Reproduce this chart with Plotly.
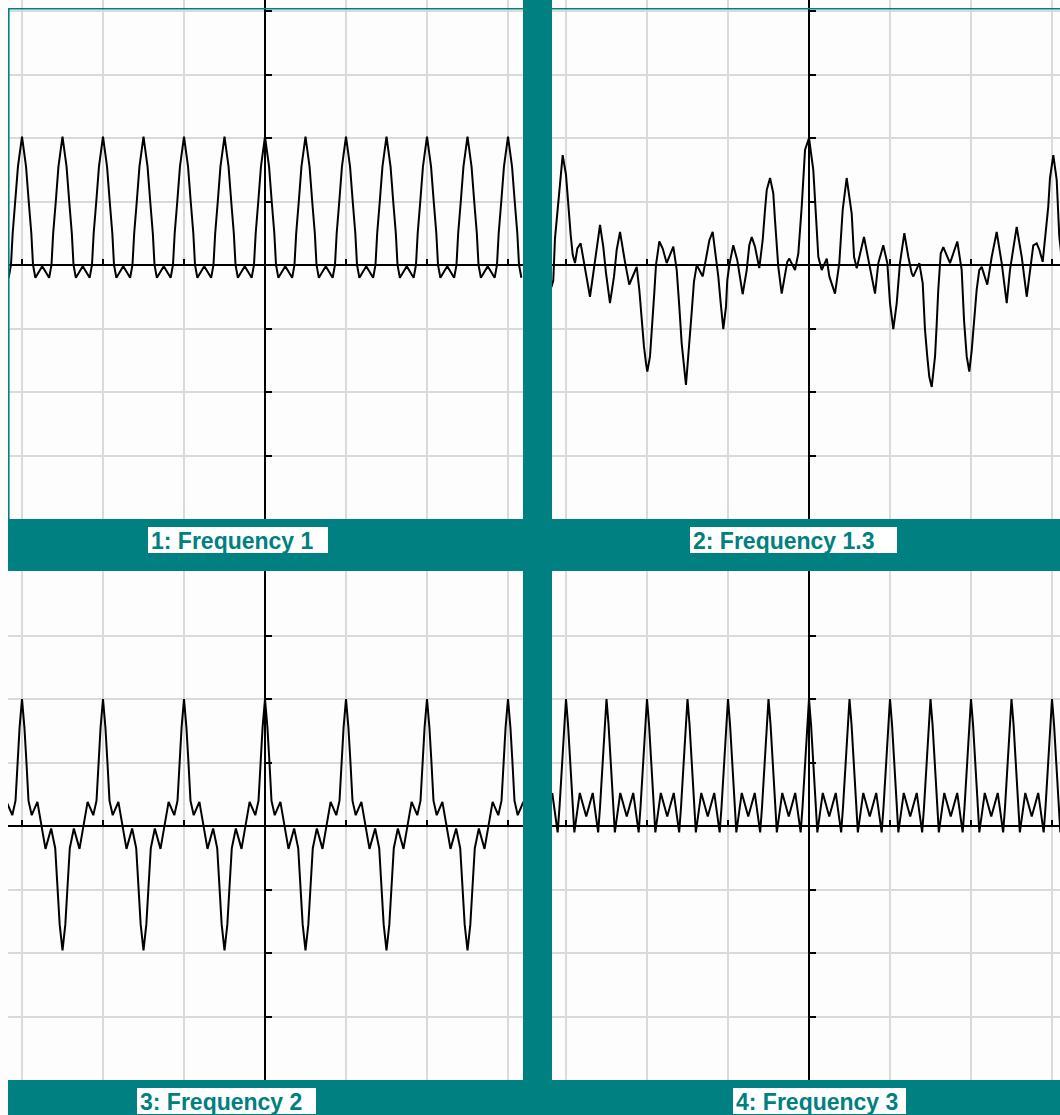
import plotly.graph_objects as go

# ---------------------------------------------------------------------------
# Waveform vertices (x in grid units, y in grid units), one list pair per panel
# ---------------------------------------------------------------------------

# Panel 1: "Frequency 1"
P1_X = [
    -3.165, -3.136, -3.115, -3.083, -3.05,
    -3.0, -2.95, -2.917, -2.885, -2.864, -2.835, -2.75, -2.665, -2.636, -2.615, -2.583, -2.55,
    -2.5, -2.45, -2.417, -2.385, -2.364, -2.335, -2.25, -2.165, -2.136, -2.115, -2.083, -2.05,
    -2.0, -1.95, -1.917, -1.885, -1.864, -1.835, -1.75, -1.665, -1.636, -1.615, -1.583, -1.55,
    -1.5, -1.45, -1.417, -1.385, -1.364, -1.335, -1.25, -1.165, -1.136, -1.115, -1.083, -1.05,
    -1.0, -0.95, -0.917, -0.885, -0.864, -0.835, -0.75, -0.665, -0.636, -0.615, -0.583, -0.55,
    -0.5, -0.45, -0.417, -0.385, -0.364, -0.335, -0.25, -0.165, -0.136, -0.115, -0.083, -0.05,
    0.0, 0.05, 0.083, 0.115, 0.136, 0.165, 0.25, 0.335, 0.364, 0.385, 0.417, 0.45,
    0.5, 0.55, 0.583, 0.615, 0.636, 0.665, 0.75, 0.835, 0.864, 0.885, 0.917, 0.95,
    1.0, 1.05, 1.083, 1.115, 1.136, 1.165, 1.25, 1.335, 1.364, 1.385, 1.417, 1.45,
    1.5, 1.55, 1.583, 1.615, 1.636, 1.665, 1.75, 1.835, 1.864, 1.885, 1.917, 1.95,
    2.0, 2.05, 2.083, 2.115, 2.136, 2.165, 2.25, 2.335, 2.364, 2.385, 2.417, 2.45,
    2.5, 2.55, 2.583, 2.615, 2.636, 2.665, 2.75, 2.835, 2.864, 2.885, 2.917, 2.95,
    3.0, 3.05, 3.083, 3.115, 3.136, 3.165,
]
P1_Y = [
    -0.2, 0.0, 0.5, 1.0, 1.55,
    2.02, 1.55, 1.0, 0.5, 0.0, -0.2, -0.02, -0.2, 0.0, 0.5, 1.0, 1.55,
    2.02, 1.55, 1.0, 0.5, 0.0, -0.2, -0.02, -0.2, 0.0, 0.5, 1.0, 1.55,
    2.02, 1.55, 1.0, 0.5, 0.0, -0.2, -0.02, -0.2, 0.0, 0.5, 1.0, 1.55,
    2.02, 1.55, 1.0, 0.5, 0.0, -0.2, -0.02, -0.2, 0.0, 0.5, 1.0, 1.55,
    2.02, 1.55, 1.0, 0.5, 0.0, -0.2, -0.02, -0.2, 0.0, 0.5, 1.0, 1.55,
    2.02, 1.55, 1.0, 0.5, 0.0, -0.2, -0.02, -0.2, 0.0, 0.5, 1.0, 1.55,
    2.02, 1.55, 1.0, 0.5, 0.0, -0.2, -0.02, -0.2, 0.0, 0.5, 1.0, 1.55,
    2.02, 1.55, 1.0, 0.5, 0.0, -0.2, -0.02, -0.2, 0.0, 0.5, 1.0, 1.55,
    2.02, 1.55, 1.0, 0.5, 0.0, -0.2, -0.02, -0.2, 0.0, 0.5, 1.0, 1.55,
    2.02, 1.55, 1.0, 0.5, 0.0, -0.2, -0.02, -0.2, 0.0, 0.5, 1.0, 1.55,
    2.02, 1.55, 1.0, 0.5, 0.0, -0.2, -0.02, -0.2, 0.0, 0.5, 1.0, 1.55,
    2.02, 1.55, 1.0, 0.5, 0.0, -0.2, -0.02, -0.2, 0.0, 0.5, 1.0, 1.55,
    2.02, 1.55, 1.0, 0.5, 0.0, -0.2,
]

# Panel 2: "Frequency 1.3"
P2_X = [
    -3.18, -3.157, -3.136, -3.095, -3.065, -3.041, -3.0, -2.972, -2.942, -2.917,
    -2.889, -2.86, -2.819, -2.786, -2.753, -2.704, -2.663, -2.63, -2.58, -2.54,
    -2.506, -2.457, -2.407, -2.374, -2.333, -2.272, -2.243, -2.219, -2.16, -2.127,
    -2.095, -2.065, -2.037, -2.012, -1.996, -1.963, -1.935, -1.91, -1.889, -1.848,
    -1.806, -1.757, -1.675, -1.633, -1.601, -1.572, -1.519, -1.478, -1.448, -1.42,
    -1.386, -1.312, -1.263, -1.23, -1.189, -1.148, -1.12, -1.09, -1.058, -1.025,
    -1.009, -0.984, -0.935, -0.886, -0.86, -0.819, -0.769, -0.737, -0.707, -0.667,
    -0.614, -0.572, -0.543, -0.522, -0.481, -0.441, -0.42, -0.399, -0.379, -0.337,
    -0.296, -0.268, -0.243, -0.173, -0.132, -0.09, -0.049, 0.0, 0.053, 0.086,
    0.115, 0.157, 0.219, 0.251, 0.321, 0.374, 0.416, 0.465, 0.527, 0.556,
    0.589, 0.679, 0.732, 0.815, 0.856, 0.917, 0.967, 1.0, 1.041, 1.083,
    1.123, 1.177, 1.226, 1.268, 1.288, 1.362, 1.404, 1.432, 1.46, 1.485,
    1.515, 1.556, 1.577, 1.596, 1.626, 1.658, 1.741, 1.831, 1.885, 1.914,
    1.947, 1.979, 2.009, 2.037, 2.07, 2.102, 2.132, 2.201, 2.256, 2.317,
    2.379, 2.441, 2.481, 2.564, 2.626, 2.688, 2.728, 2.769, 2.811, 2.844,
    2.885, 2.926, 2.954, 2.975, 3.016, 3.058, 3.09, 3.12,
]
P2_Y = [
    -0.35, -0.24, 0.42, 1.0, 1.42, 1.73, 1.42, 0.94, 0.47, 0.16,
    0.03, 0.26, 0.34, 0.1, -0.16, -0.5, -0.13, 0.19, 0.63, 0.29,
    -0.13, -0.6, -0.18, 0.24, 0.52, 0.05, -0.18, -0.31, -0.13, -0.03,
    -0.39, -0.87, -1.29, -1.55, -1.68, -1.44, -0.97, -0.44, 0.0, 0.37,
    0.26, 0.03, 0.29, -0.08, -0.66, -1.23, -1.89, -1.29, -0.74, -0.26,
    0.0, -0.18, 0.13, 0.39, 0.52, 0.13, -0.18, -0.6, -1.01, -0.66,
    -0.24, 0.0, 0.31, 0.08, -0.13, -0.46, -0.08, 0.31, 0.44, 0.29,
    -0.05, 0.39, 0.87, 1.18, 1.37, 1.13, 0.71, 0.24, -0.03, -0.45,
    -0.13, 0.05, 0.1, -0.08, 0.18, 0.92, 1.81, 2.0, 1.5, 0.71,
    0.13, -0.08, 0.1, -0.18, -0.45, 0.03, 0.87, 1.37, 0.81, 0.13,
    -0.05, 0.44, 0.08, -0.45, 0.03, 0.31, 0.03, -0.6, -1.01, -0.6,
    0.03, 0.5, 0.13, -0.13, -0.18, 0.03, -0.29, -1.02, -1.44, -1.76,
    -1.92, -1.44, -0.92, -0.39, 0.18, 0.28, 0.03, 0.37, -0.08, -0.87,
    -1.44, -1.68, -1.34, -0.87, -0.39, -0.08, -0.03, -0.31, 0.13, 0.52,
    0.03, -0.6, -0.08, 0.6, 0.13, -0.5, -0.08, 0.31, 0.34, 0.24,
    0.05, 0.55, 0.92, 1.37, 1.73, 1.34, 0.45, 0.1,
]

# Panel 3: "Frequency 2"
P3_X = [
    -3.19, -3.12, -3.08, -3.055, -3.03,
    -3.0, -2.97, -2.945, -2.92, -2.88, -2.81, -2.71, -2.64, -2.59, -2.56, -2.535,
    -2.5, -2.465, -2.44, -2.41, -2.36, -2.29, -2.19, -2.12, -2.08, -2.055, -2.03,
    -2.0, -1.97, -1.945, -1.92, -1.88, -1.81, -1.71, -1.64, -1.59, -1.56, -1.535,
    -1.5, -1.465, -1.44, -1.41, -1.36, -1.29, -1.19, -1.12, -1.08, -1.055, -1.03,
    -1.0, -0.97, -0.945, -0.92, -0.88, -0.81, -0.71, -0.64, -0.59, -0.56, -0.535,
    -0.5, -0.465, -0.44, -0.41, -0.36, -0.29, -0.19, -0.12, -0.08, -0.055, -0.03,
    0.0, 0.03, 0.055, 0.08, 0.12, 0.19, 0.29, 0.36, 0.41, 0.44, 0.465,
    0.5, 0.535, 0.56, 0.59, 0.64, 0.71, 0.81, 0.88, 0.92, 0.945, 0.97,
    1.0, 1.03, 1.055, 1.08, 1.12, 1.19, 1.29, 1.36, 1.41, 1.44, 1.465,
    1.5, 1.535, 1.56, 1.59, 1.64, 1.71, 1.81, 1.88, 1.92, 1.945, 1.97,
    2.0, 2.03, 2.055, 2.08, 2.12, 2.19, 2.29, 2.36, 2.41, 2.44, 2.465,
    2.5, 2.535, 2.56, 2.59, 2.64, 2.71, 2.81, 2.88, 2.92, 2.945, 2.97,
    3.0, 3.03, 3.055, 3.08, 3.12, 3.19,
]
P3_Y = [
    0.38, 0.17, 0.4, 1.0, 1.55,
    2.0, 1.55, 1.0, 0.4, 0.17, 0.38, -0.36, -0.04, -0.35, -1.0, -1.55,
    -1.96, -1.55, -1.0, -0.35, -0.04, -0.36, 0.38, 0.17, 0.4, 1.0, 1.55,
    2.0, 1.55, 1.0, 0.4, 0.17, 0.38, -0.36, -0.04, -0.35, -1.0, -1.55,
    -1.96, -1.55, -1.0, -0.35, -0.04, -0.36, 0.38, 0.17, 0.4, 1.0, 1.55,
    2.0, 1.55, 1.0, 0.4, 0.17, 0.38, -0.36, -0.04, -0.35, -1.0, -1.55,
    -1.96, -1.55, -1.0, -0.35, -0.04, -0.36, 0.38, 0.17, 0.4, 1.0, 1.55,
    2.0, 1.55, 1.0, 0.4, 0.17, 0.38, -0.36, -0.04, -0.35, -1.0, -1.55,
    -1.96, -1.55, -1.0, -0.35, -0.04, -0.36, 0.38, 0.17, 0.4, 1.0, 1.55,
    2.0, 1.55, 1.0, 0.4, 0.17, 0.38, -0.36, -0.04, -0.35, -1.0, -1.55,
    -1.96, -1.55, -1.0, -0.35, -0.04, -0.36, 0.38, 0.17, 0.4, 1.0, 1.55,
    2.0, 1.55, 1.0, 0.4, 0.17, 0.38, -0.36, -0.04, -0.35, -1.0, -1.55,
    -1.96, -1.55, -1.0, -0.35, -0.04, -0.36, 0.38, 0.17, 0.4, 1.0, 1.55,
    2.0, 1.55, 1.0, 0.4, 0.17, 0.38,
]

# Panel 4: "Frequency 3"
P4_X = [
    -3.17, -3.103, -3.08, -3.06, -3.025,
    -3.0, -2.975, -2.94, -2.92, -2.897, -2.83, -2.75, -2.67, -2.603, -2.58, -2.56, -2.525,
    -2.5, -2.475, -2.44, -2.42, -2.397, -2.33, -2.25, -2.17, -2.103, -2.08, -2.06, -2.025,
    -2.0, -1.975, -1.94, -1.92, -1.897, -1.83, -1.75, -1.67, -1.603, -1.58, -1.56, -1.525,
    -1.5, -1.475, -1.44, -1.42, -1.397, -1.33, -1.25, -1.17, -1.103, -1.08, -1.06, -1.025,
    -1.0, -0.975, -0.94, -0.92, -0.897, -0.83, -0.75, -0.67, -0.603, -0.58, -0.56, -0.525,
    -0.5, -0.475, -0.44, -0.42, -0.397, -0.33, -0.25, -0.17, -0.103, -0.08, -0.06, -0.025,
    0.0, 0.025, 0.06, 0.08, 0.103, 0.17, 0.25, 0.33, 0.397, 0.42, 0.44, 0.475,
    0.5, 0.525, 0.56, 0.58, 0.603, 0.67, 0.75, 0.83, 0.897, 0.92, 0.94, 0.975,
    1.0, 1.025, 1.06, 1.08, 1.103, 1.17, 1.25, 1.33, 1.397, 1.42, 1.44, 1.475,
    1.5, 1.525, 1.56, 1.58, 1.603, 1.67, 1.75, 1.83, 1.897, 1.92, 1.94, 1.975,
    2.0, 2.025, 2.06, 2.08, 2.103, 2.17, 2.25, 2.33, 2.397, 2.42, 2.44, 2.475,
    2.5, 2.525, 2.56, 2.58, 2.603, 2.67, 2.75, 2.83, 2.897, 2.92, 2.94, 2.975,
    3.0, 3.025, 3.06, 3.08, 3.103, 3.17,
]
P4_Y = [
    0.52, -0.1, 0.3, 0.75, 1.6,
    2.0, 1.6, 0.75, 0.3, -0.1, 0.52, 0.15, 0.52, -0.1, 0.3, 0.75, 1.6,
    2.0, 1.6, 0.75, 0.3, -0.1, 0.52, 0.15, 0.52, -0.1, 0.3, 0.75, 1.6,
    2.0, 1.6, 0.75, 0.3, -0.1, 0.52, 0.15, 0.52, -0.1, 0.3, 0.75, 1.6,
    2.0, 1.6, 0.75, 0.3, -0.1, 0.52, 0.15, 0.52, -0.1, 0.3, 0.75, 1.6,
    2.0, 1.6, 0.75, 0.3, -0.1, 0.52, 0.15, 0.52, -0.1, 0.3, 0.75, 1.6,
    2.0, 1.6, 0.75, 0.3, -0.1, 0.52, 0.15, 0.52, -0.1, 0.3, 0.75, 1.6,
    2.0, 1.6, 0.75, 0.3, -0.1, 0.52, 0.15, 0.52, -0.1, 0.3, 0.75, 1.6,
    2.0, 1.6, 0.75, 0.3, -0.1, 0.52, 0.15, 0.52, -0.1, 0.3, 0.75, 1.6,
    2.0, 1.6, 0.75, 0.3, -0.1, 0.52, 0.15, 0.52, -0.1, 0.3, 0.75, 1.6,
    2.0, 1.6, 0.75, 0.3, -0.1, 0.52, 0.15, 0.52, -0.1, 0.3, 0.75, 1.6,
    2.0, 1.6, 0.75, 0.3, -0.1, 0.52, 0.15, 0.52, -0.1, 0.3, 0.75, 1.6,
    2.0, 1.6, 0.75, 0.3, -0.1, 0.52, 0.15, 0.52, -0.1, 0.3, 0.75, 1.6,
    2.0, 1.6, 0.75, 0.3, -0.1, 0.52,
]

TITLES = ["1: Frequency 1", "2: Frequency 1.3", "3: Frequency 2", "4: Frequency 3"]

# ---------------------------------------------------------------------------
# Page geometry (pixels) and styling
# ---------------------------------------------------------------------------
W, H = 1060, 1115
TEAL = "#008080"
GRID = "#dadada"
PANEL_BG = "#fdfdfd"
UX, UY = 81.0, 63.5          # pixels per grid unit

# each panel: horizontal span, vertical span, origin of the crossing axes
PANELS = [
    dict(xs=(8, 523), ys=(0, 519), org=(265, 265)),
    dict(xs=(552, 1060), ys=(0, 519), org=(809, 265)),
    dict(xs=(8, 523), ys=(571, 1080), org=(265, 826)),
    dict(xs=(552, 1060), ys=(571, 1080), org=(809, 826)),
]
SERIES = [(P1_X, P1_Y), (P2_X, P2_Y), (P3_X, P3_Y), (P4_X, P4_Y)]

# white caption boxes under each panel (pixels)
LABEL_BOXES = [
    (148, 527, 328, 553),
    (690, 527, 897, 553),
    (137, 1088, 316, 1114),
    (733, 1088, 906, 1114),
]


def px_x(v):
    return v / W


def px_y(v):
    return 1 - v / H


fig = go.Figure()
layout = {}

for i, (panel, (sx, sy)) in enumerate(zip(PANELS, SERIES)):
    n = "" if i == 0 else str(i + 1)
    x0, x1 = panel["xs"]
    y0, y1 = panel["ys"]
    ox, oy = panel["org"]
    fig.add_trace(go.Scatter(
        x=sx, y=sy, mode="lines",
        line=dict(color="black", width=2),
        xaxis="x" + n, yaxis="y" + n,
        hoverinfo="skip", showlegend=False,
    ))
    common = dict(
        showgrid=True, gridcolor=GRID, gridwidth=2,
        dtick=1, tick0=0,
        zeroline=True, zerolinecolor="black", zerolinewidth=2,
        ticks="inside", ticklen=6, tickwidth=2, tickcolor="black",
        showticklabels=False, showline=False, fixedrange=True,
        anchor="free",
    )
    layout["xaxis" + n] = dict(
        common,
        domain=[px_x(x0), px_x(x1)],
        range=[(x0 - ox) / UX, (x1 - ox) / UX],
        position=px_y(oy),
    )
    layout["yaxis" + n] = dict(
        common,
        domain=[px_y(y1), px_y(y0)],
        range=[(oy - y1) / UY, (oy - y0) / UY],
        position=px_x(ox),
    )


def rect(x0, y0, x1, y1, color):
    return dict(type="rect", xref="paper", yref="paper",
                x0=px_x(x0), x1=px_x(x1), y0=px_y(y1), y1=px_y(y0),
                fillcolor=color, line=dict(width=0), layer="above")


def hline(x0, x1, y, color, w):
    return dict(type="line", xref="paper", yref="paper",
                x0=px_x(x0), x1=px_x(x1), y0=px_y(y), y1=px_y(y),
                line=dict(color=color, width=w), layer="above")


def vline(x, y0, y1, color, w):
    return dict(type="line", xref="paper", yref="paper",
                x0=px_x(x), x1=px_x(x), y0=px_y(y0), y1=px_y(y1),
                line=dict(color=color, width=w), layer="above")


shapes = [
    rect(8, 519, 1060, 571, TEAL),      # middle band
    rect(523, 0, 552, H, TEAL),          # vertical band
    rect(8, 1080, 1060, H, TEAL),        # bottom band
    hline(8, 1060, 8.8, TEAL, 1.6),      # frame of the active panel
    vline(8.8, 8, 519, TEAL, 1.6),
]
annotations = []
for (bx0, by0, bx1, by1), title in zip(LABEL_BOXES, TITLES):
    shapes.append(rect(bx0, by0, bx1, by1, "white"))
    annotations.append(dict(
        x=px_x(bx0 + 1), y=px_y((by0 + by1) / 2 + 1),
        xref="paper", yref="paper", xanchor="left", yanchor="middle",
        text="<b>%s</b>" % title, showarrow=False,
        font=dict(family="Liberation Sans", size=23, color=TEAL),
    ))

fig.update_layout(
    width=W, height=H,
    margin=dict(l=0, r=0, t=0, b=0),
    paper_bgcolor=PANEL_BG, plot_bgcolor=PANEL_BG,
    shapes=shapes, annotations=annotations,
    showlegend=False,
    **layout,
)

fig.write_html("out.html")
